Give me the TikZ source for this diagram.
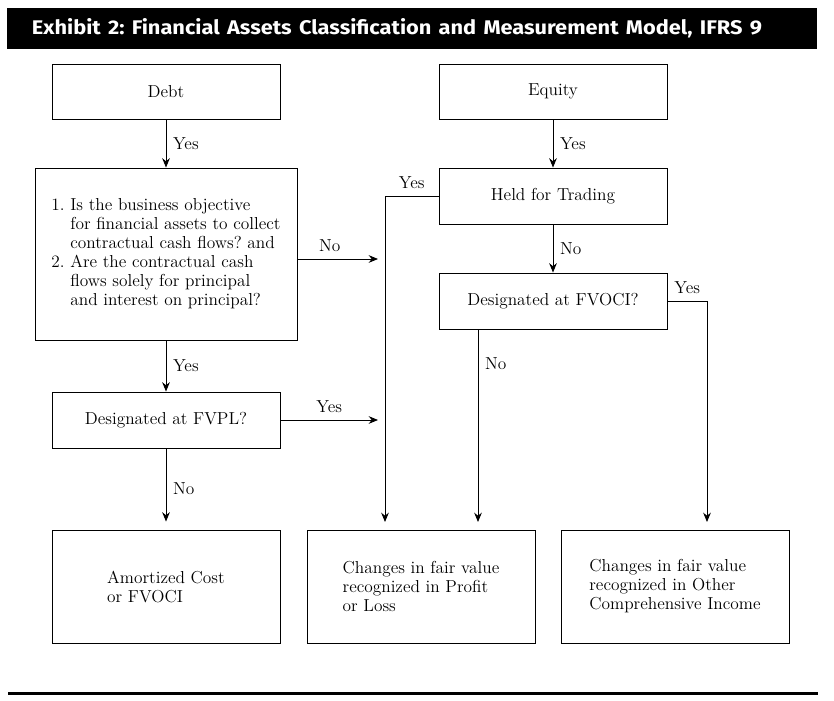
\documentclass[tikz,border=0pt]{standalone}
\usepackage{fontspec}
\usepackage{graphicx}
\usetikzlibrary{arrows.meta}
\newfontfamily\titlefont{Fira Sans}
\newcommand{\boxfont}{\fontsize{14.8}{16.2}\selectfont}
\frenchspacing

\begin{document}
\begin{tikzpicture}[x=0.03cm, y=-0.03cm,
        box/.style={draw, line width=0.8pt, inner sep=0pt, align=left,
            minimum width=6.84cm, minimum height=1.68cm, font=\boxfont},
        resultbox/.style={box, minimum height=3.39cm},
        arr/.style={line width=0.8pt, -{Stealth[length=0.28cm, width=0.23cm]}},
        tobox/.style={arr, shorten >=0.24cm},
        lbl/.style={font=\boxfont, inner sep=0.2cm}]
    \useasboundingbox (0,0) rectangle (834,701);

    \node[fill=black, text=white, minimum width=24.3cm, minimum height=1.23cm,
        inner xsep=0.75cm, inner ysep=0pt, text width=22.8cm, align=left] (title) at (412,28.5)
        {\resizebox{21.9cm}{0.48cm}{\titlefont\bfseries Exhibit 2: Financial Assets Classification and Measurement Model, IFRS 9}};

    \node[box, minimum height=1.65cm] (debt) at (166,91.5) {Debt};
    \node[box, minimum height=1.65cm] (equity) at (553,91.5) {Equity};

    \node[box, minimum width=7.86cm, minimum height=5.16cm] (quest) at (166,254) {%
        \begin{tabular}{@{}r@{\ }l@{}}
            1. & Is the business objective\\
               & for financial assets to collect\\
               & contractual cash flows? and\\
            2. & Are the contractual cash\\
               & flows solely for principal\\
               & and interest on principal?
        \end{tabular}};
    \node[box] (hft) at (553,196) {Held for Trading};
    \node[box] (fvoci) at (553,301) {Designated at FVOCI?};
    \node[box] (fvpl) at (166,420) {Designated at FVPL?};

    \node[resultbox] (amort) at (166,586.5) {Amortized Cost\\or FVOCI};
    \node[resultbox] (pl) at (421,586.5) {Changes in fair value\\recognized in Profit\\or Loss};
    \node[resultbox] (oci) at (675,586.5) {Changes in fair value\\recognized in Other\\Comprehensive Income};

    \coordinate (noend) at (378,259);
    \coordinate (yesend) at (378,420);
    \coordinate (hftdrop) at (385,530);
    \coordinate (ocino) at (478,530);
    \coordinate (ociyes) at (707,530);

    \draw[arr] (debt) -- node[lbl, right] {Yes} (quest);
    \draw[arr] (equity) -- node[lbl, right] {Yes} (hft);
    \draw[arr] (quest) -- node[lbl, right] {Yes} (fvpl);
    \draw[tobox] (fvpl) -- node[lbl, right] {No} (amort);
    \draw[arr] (hft) -- node[lbl, right] {No} (fvoci);

    \draw[arr] (quest.east |- noend) -- node[lbl, above, pos=0.4] {No} (noend);
    \draw[arr] (fvpl) -- node[lbl, above, pos=0.5] {Yes} (yesend);
    \draw[tobox] (hft) -| node[lbl, above, pos=0.25] {Yes} (hftdrop);
    \draw[tobox] (fvoci.south -| ocino) -- node[lbl, right, pos=0.17] {No} (ocino);
    \draw[tobox] (fvoci) -| node[lbl, above, pos=0.25] {Yes} (ociyes);

    \draw[line width=0.09cm] (8,693) -- (818,693);
\end{tikzpicture}
\end{document}
